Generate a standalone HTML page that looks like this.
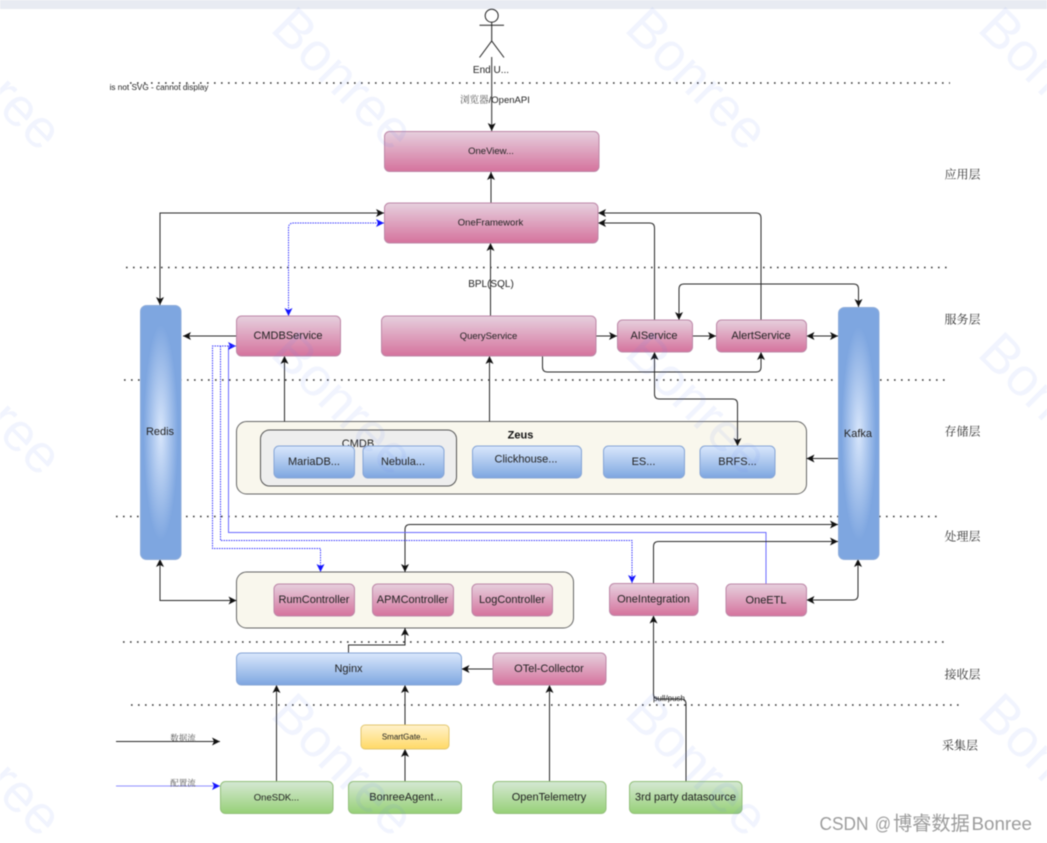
<!DOCTYPE html>
<html><head><meta charset="utf-8"><style>
html,body{margin:0;padding:0;background:#fff;width:1047px;height:843px;overflow:hidden}
svg{display:block;filter:blur(.5px)}
text{font-family:"Liberation Sans","Noto Sans CJK SC",sans-serif;fill:#222;text-anchor:middle}
.c{font-family:"Noto Serif CJK SC",serif;font-size:12px;fill:#333}
.s{font-family:"Noto Serif CJK SC",serif;fill:#555}
.dot{stroke:#333;stroke-width:1.6;stroke-dasharray:1.6 5.4;fill:none}
.k{fill:none;stroke:#2a2a2a;stroke-width:1}
.ae{marker-end:url(#a)}
.ab{marker-end:url(#a);marker-start:url(#a)}
.b{fill:none;stroke:#6a6aff;stroke-width:1}
.bd{fill:none;stroke:#3a3aff;stroke-width:1;stroke-dasharray:1.5 1}
.be{marker-end:url(#ab)}
.bb{marker-end:url(#ab);marker-start:url(#ab)}
.p{fill:url(#gp);stroke:#bd87a7}
.u{fill:url(#gb);stroke:#86a5d6}
.g{fill:url(#gg);stroke:#93c07a}
.w{font-size:54px;fill:rgba(90,130,240,.085);text-anchor:start}
.m{font-size:18px;fill:#9c9c9c;text-anchor:start}
</style></head><body>
<svg width="1047" height="843" viewBox="0 0 1047 843" xmlns="http://www.w3.org/2000/svg">
<defs>
<linearGradient id="gp" x1="0" y1="0" x2="0" y2="1"><stop offset="0" stop-color="#e6d0de"/><stop offset="1" stop-color="#d5739d"/></linearGradient>
<linearGradient id="gb" x1="0" y1="0" x2="0" y2="1"><stop offset="0" stop-color="#dae8fc"/><stop offset="1" stop-color="#7ea6e0"/></linearGradient>
<linearGradient id="gg" x1="0" y1="0" x2="0" y2="1"><stop offset="0" stop-color="#d5e8d4"/><stop offset="1" stop-color="#97d077"/></linearGradient>
<linearGradient id="gy" x1="0" y1="0" x2="0" y2="1"><stop offset="0" stop-color="#fff2cc"/><stop offset="1" stop-color="#ffd966"/></linearGradient>
<radialGradient id="gk" cx=".5" cy=".5" r=".5"><stop offset="0" stop-color="#d8e6fb"/><stop offset=".85" stop-color="#7ea6e0"/><stop offset="1" stop-color="#7ea6e0"/></radialGradient>
<marker id="a" markerUnits="userSpaceOnUse" markerWidth="9" markerHeight="9" refX="8" refY="4.5" orient="auto-start-reverse"><path d="M0,.5 L8,4.5 L0,8.500 L2,4.5 Z" fill="#111"/></marker>
<marker id="ab" markerUnits="userSpaceOnUse" markerWidth="9" markerHeight="9" refX="8" refY="4.5" orient="auto-start-reverse"><path d="M0,.5 L8,4.5 L0,8.500 L2,4.5 Z" fill="#1414ff"/></marker>
</defs>

<rect x="0" y="0" width="1047" height="9" fill="#e8ebf2"/>

<!-- dotted lines -->
<path class="dot" d="M130 83H950"/>
<path class="dot" d="M126 267.5H950"/>
<path class="dot" d="M124 380H948"/>
<path class="dot" d="M116 516.5H940"/>
<path class="dot" d="M123 642H948"/>
<path class="dot" d="M131 705H963"/>

<text x="159" y="90" style="font-size:8.2px">is not SVG - cannot display</text>

<!-- actor -->
<g fill="none" stroke="#222" stroke-width="1">
<circle cx="491.7" cy="15.7" r="6.5" fill="#fff"/>
<path d="M491.7 22.2V41M479.5 25.3H504M479.5 57.5L491.7 41L504 57.5"/>
</g>
<text x="491" y="73" style="font-size:10px">End U...</text>
<path class="k ae" d="M491.7 57V131"/>
<text x="495" y="103" style="font-size:9.5px"><tspan class="s">浏览器</tspan>/OpenAPI</text>

<!-- containers -->
<rect x="236.5" y="421.5" width="570" height="72.5" rx="10" fill="#f9f7ed" stroke="#666"/>
<rect x="260.5" y="430" width="196" height="56" rx="9" fill="#eeeeee" stroke="#555"/>
<rect x="236.5" y="572" width="337" height="56" rx="10" fill="#f9f7ed" stroke="#666"/>

<!-- connectors -->
<path class="k ae" d="M491 202.5V172"/>
<path class="k ab" d="M160 305V213H384"/>
<path class="bd bb" d="M288.5 316V228Q288.5 223 293.5 223H384"/>
<path class="k ae" d="M490.5 316V243"/>
<text x="491" y="287" style="font-size:10px">BPL(SQL)</text>
<path class="k ae" d="M654.5 320V228Q654.5 223 649.5 223H598"/>
<path class="k ae" d="M761 320V218Q761 213 756 213H598"/>
<path class="k ab" d="M679 320V289Q679 284 684 284H853.5Q858.5 284 858.5 289V307"/>
<path class="k ae" d="M596 336H617"/>
<path class="k ae" d="M692 336H716"/>
<path class="k ab" d="M806.5 336H838"/>
<path class="k ae" d="M542.5 356V367Q542.5 372 547.5 372H756Q761 372 761 367V352"/>
<path class="k ab" d="M654.5 352V394Q654.5 399 659.5 399H732.5Q737.5 399 737.5 404V446"/>
<path class="k ae" d="M838 458.5H806.5"/>
<path class="k ae" d="M236 336H183"/>
<path class="k ae" d="M284.5 421.5V356"/>
<path class="k ae" d="M489.5 421.5V356"/>
<path class="k ab" d="M160 559V600.5H236.5"/>
<path class="k ab" d="M405 572V529.5Q405 524.5 410 524.5H838"/>
<path class="b be" d="M766 584V532.5H228.5V346H236"/>
<path class="bd" d="M220.5 346V540.5H632V575"/>
<path class="bd be" d="M632 575V583"/>
<path class="bd be" d="M236 346H212.5V548.5H320.5V572"/>
<path class="k ae" d="M653.5 583V546.5Q653.5 541.5 658.5 541.5H838"/>
<path class="k ab" d="M806.5 600H853Q858 600 858 595V559"/>
<path class="k ae" d="M348.5 653V645H405V628"/>
<path class="k ae" d="M493 669H461.5"/>
<path class="k ae" d="M276.5 781V685"/>
<path class="k ae" d="M405 725V685"/>
<path class="k ae" d="M405 781V749"/>
<path class="k ae" d="M549.5 781V685"/>
<path class="k ae" d="M686 781V704Q686 699 681 699H658.5Q653.5 699 653.5 694V615.5"/>
<text x="669" y="701" style="font-size:8px">pull/push</text>

<!-- pink boxes -->
<rect class="p" x="384.5" y="131.5" width="214.5" height="40" rx="5"/><text x="491" y="154" style="font-size:9.5px">OneView...</text>
<rect class="p" x="384.5" y="203" width="213.5" height="40" rx="5"/><text x="490.5" y="225.5" style="font-size:9.5px">OneFramework</text>
<rect class="p" x="236.5" y="316" width="104" height="40" rx="5"/><text x="288" y="339" style="font-size:11px">CMDBService</text>
<rect class="p" x="381.5" y="316" width="214.5" height="40" rx="5"/><text x="488.5" y="339" style="font-size:9.5px">QueryService</text>
<rect class="p" x="617.5" y="320" width="75" height="32" rx="5"/><text x="654" y="339" style="font-size:11px">AIService</text>
<rect class="p" x="716.5" y="320" width="90" height="32" rx="5"/><text x="761" y="339" style="font-size:11px">AlertService</text>
<rect class="p" x="274" y="584" width="80.5" height="32" rx="5"/><text x="314" y="603" style="font-size:11px">RumController</text>
<rect class="p" x="372.5" y="584" width="81" height="32" rx="5"/><text x="412.5" y="603" style="font-size:11px">APMController</text>
<rect class="p" x="472" y="584" width="80.5" height="32" rx="5"/><text x="512" y="603" style="font-size:11px">LogController</text>
<rect class="p" x="609.5" y="583.5" width="88.5" height="32" rx="5"/><text x="653.5" y="602.5" style="font-size:11px">OneIntegration</text>
<rect class="p" x="726" y="584" width="80.5" height="32" rx="5"/><text x="766" y="603.5" style="font-size:11px">OneETL</text>
<rect class="p" x="493" y="653" width="113" height="32" rx="5"/><text x="549" y="672" style="font-size:11px">OTel-Collector</text>

<!-- blue boxes -->
<rect x="140.5" y="305.5" width="40.5" height="254" rx="6" fill="url(#gk)" stroke="#8fadda"/>
<rect x="838.5" y="307.5" width="40.5" height="252" rx="6" fill="url(#gk)" stroke="#8fadda"/>
<text x="160" y="435" style="font-size:11px">Redis</text>
<text x="858" y="437" style="font-size:11px">Kafka</text>
<text x="358" y="447" style="font-size:11px">CMDB</text>
<text x="520.5" y="438.5" style="font-size:11px;font-weight:bold;fill:#111">Zeus</text>
<rect class="u" x="274" y="446" width="80.5" height="32" rx="5"/><text x="314" y="465" style="font-size:11px">MariaDB...</text>
<rect class="u" x="363" y="446" width="81" height="32" rx="5"/><text x="403" y="465" style="font-size:11px">Nebula...</text>
<rect class="u" x="472.5" y="446" width="109" height="32" rx="5"/><text x="526" y="462.5" style="font-size:11px">Clickhouse...</text>
<rect class="u" x="603.5" y="446" width="81" height="32" rx="5"/><text x="643.5" y="465" style="font-size:11px">ES...</text>
<rect class="u" x="700" y="446" width="75" height="32" rx="5"/><text x="737.5" y="465" style="font-size:11px">BRFS...</text>
<rect class="u" x="236.5" y="653" width="225" height="32" rx="5"/><text x="348.5" y="672" style="font-size:11px">Nginx</text>

<!-- yellow -->
<rect x="361" y="725" width="88" height="24" rx="4" fill="url(#gy)" stroke="#e2c76f"/><text x="404.5" y="739.5" style="font-size:8px">SmartGate...</text>

<!-- green -->
<rect class="g" x="220.5" y="781.5" width="112.5" height="32" rx="5"/><text x="276.5" y="800.5" style="font-size:9.5px">OneSDK...</text>
<rect class="g" x="348.5" y="781.5" width="113" height="32" rx="5"/><text x="406" y="800.5" style="font-size:11px">BonreeAgent...</text>
<rect class="g" x="493" y="781.5" width="113" height="32" rx="5"/><text x="549" y="800.5" style="font-size:11px">OpenTelemetry</text>
<rect class="g" x="629.5" y="781.5" width="112.5" height="32" rx="5"/><text x="685.5" y="800.5" style="font-size:11px">3rd party datasource</text>

<!-- legend -->
<path class="k ae" d="M116 741.5H220"/>
<text class="s" x="183" y="741" style="font-size:8.5px">数据流</text>
<path class="be" d="M116 786H220" fill="none" stroke="#8f8fff" stroke-width="1"/>
<text class="s" x="183" y="786" style="font-size:8.5px">配置流</text>

<!-- layer labels -->
<text class="c" x="962.5" y="178.5">应用层</text>
<text class="c" x="962.5" y="323.5">服务层</text>
<text class="c" x="962.5" y="435.5">存储层</text>
<text class="c" x="962.5" y="540.5">处理层</text>
<text class="c" x="962.5" y="678.5">接收层</text>
<text class="c" x="960" y="749.5">采集层</text>

<!-- watermark -->
<g>
<text class="w" transform="translate(269 30) rotate(45)">Bonree</text>
<text class="w" transform="translate(623 30) rotate(45)">Bonree</text>
<text class="w" transform="translate(976 30) rotate(45)">Bonree</text>
<text class="w" transform="translate(-83 30) rotate(45)">Bonree</text>
<text class="w" transform="translate(269 355) rotate(45)">Bonree</text>
<text class="w" transform="translate(623 355) rotate(45)">Bonree</text>
<text class="w" transform="translate(976 355) rotate(45)">Bonree</text>
<text class="w" transform="translate(-83 355) rotate(45)">Bonree</text>
<text class="w" transform="translate(269 716) rotate(45)">Bonree</text>
<text class="w" transform="translate(623 716) rotate(45)">Bonree</text>
<text class="w" transform="translate(976 716) rotate(45)">Bonree</text>
<text class="w" transform="translate(-83 716) rotate(45)">Bonree</text>
</g>

<text class="m" x="819.5" y="830" textLength="49" lengthAdjust="spacingAndGlyphs">CSDN</text>
<text class="m" x="875" y="830" textLength="16" lengthAdjust="spacingAndGlyphs">@</text>
<text class="m" x="893" y="830" style="font-size:19.2px">博睿数据</text>
<text class="m" x="971.5" y="830" textLength="60.5" lengthAdjust="spacingAndGlyphs">Bonree</text>
</svg>
</body></html>
